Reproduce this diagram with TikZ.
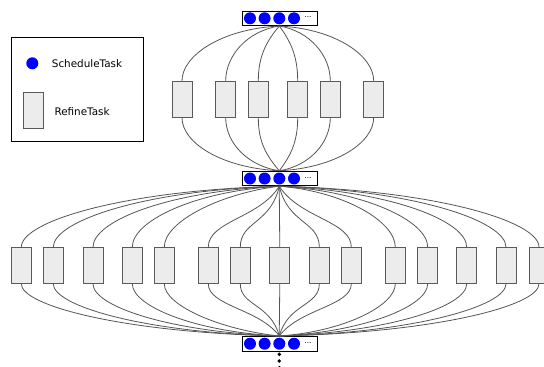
\documentclass[tikz,border=0pt]{standalone}
\usepackage{fontspec}
\setmainfont{DejaVu Sans}
\usetikzlibrary{calc}
\definecolor{rfill}{HTML}{ECECEC}
\definecolor{rdraw}{HTML}{5A5A5A}
\definecolor{edgec}{HTML}{555555}
\tikzset{
  refine/.style={draw=rdraw, fill=rfill, line width=0.8pt, minimum width=20pt, minimum height=36pt, inner sep=0pt},
  sched/.style={circle, fill=blue, minimum size=12pt, inner sep=0pt},
  bar/.style={draw=black, line width=0.9pt, minimum width=75.5pt, minimum height=14.5pt, inner sep=0pt, fill=white},
  conn/.style={draw=edgec, line width=0.8pt},
  lbl/.style={font=\fontsize{10.4}{12}\selectfont, anchor=west, inner sep=0pt},
  vdot/.style={circle, fill=black, minimum size=3.8pt, inner sep=0pt},
  ell/.style={font=\fontsize{7.5}{8}\selectfont, inner sep=0pt}
}
\begin{document}
\begin{tikzpicture}[x=1pt,y=-1pt]
\useasboundingbox (0,0) rectangle (544,367);
% legend
\draw[black, line width=0.8pt] (11.3,37.3) rectangle (143,141.7);
\node[sched] (lc) at (32.3,63.3) {};
\node[lbl] (lt1) at (51.7,63.3) {ScheduleTask};
\node[refine] (lr) at (33.3,110.5) {};
\node[lbl] (lt2) at (54.3,111.7) {RefineTask};
% bars
\foreach \b/\y in {1/18.3, 2/178.5, 3/343.7}{
  \node[bar] (b\b) at (279.75,\y) {};
  \foreach \k/\x in {1/250, 2/264.6, 3/279.3, 4/294}{
    \node[sched] (b\b c\k) at (\x,\y) {};
  }
  \node[ell] (b\b e) at (308,\y-0.8) {...};
  \coordinate (b\b s) at (b\b c3 |- b\b.south);
  \coordinate (b\b n) at (b\b c3 |- b\b.north);
}
\node[vdot] (d1) at (279.3,354.3) {};
\node[vdot] (d2) at (279.3,361) {};
\node[vdot] (d3) at (279.3,367.6) {};
% top row
\foreach \n/\cx/\a/\bb in {1/182/0.6/3, 2/225.7/0.6/5, 3/258.3/0.6/15, 4/297.7/0.6/15, 5/330.3/0.6/5, 6/373.7/0.6/3}{
  \node[refine] (r\n) at (\cx,99.2) {};
  \draw[conn] (b1s) .. controls ($(b1s)+({\a*(\cx-279.3)},\bb)$) and ($(r\n.north)+(0,-25)$) .. (r\n.north);
  \draw[conn] (r\n.south) .. controls ($(r\n.south)+(0,25)$) and ($(b2n)+({\a*(\cx-279.3)},-\bb)$) .. (b2n);
}
% lower row
\foreach \n/\cx/\a/\bb in {1/21.3/0.6/4, 2/53.3/0.6/4, 3/93/0.6/5, 4/132.3/0.58/5, 5/164.3/0.5/7, 6/208.3/0.28/32, 7/240.3/0.22/38, 8/279.7/0/22, 9/319.3/0.22/38, 10/351.3/0.28/32, 11/395.3/0.55/5, 12/427.7/0.58/5, 13/466.7/0.6/5, 14/506/0.6/4, 15/539/0.6/4}{
  \node[refine] (s\n) at (\cx,265.5) {};
  \draw[conn] (b2s) .. controls ($(b2s)+({\a*(\cx-279.3)},\bb)$) and ($(s\n.north)+(0,-26)$) .. (s\n.north);
  \draw[conn] (s\n.south) .. controls ($(s\n.south)+(0,22)$) and ($(b3n)+({\a*(\cx-279.3)},{-0.85*\bb})$) .. (b3n);
}
\end{tikzpicture}
\end{document}
